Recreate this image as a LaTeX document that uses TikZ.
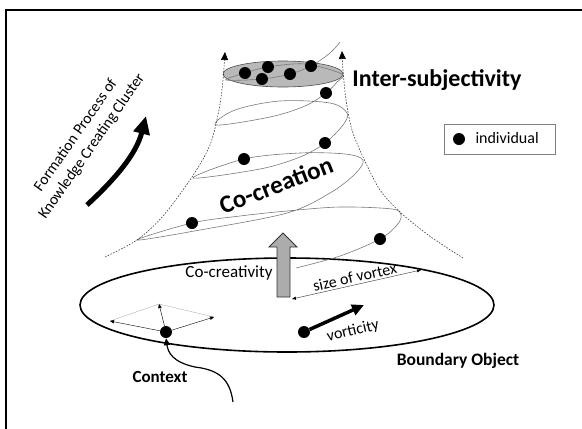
\documentclass[tikz,border=0pt]{standalone}
\usepackage{fontspec}
\setmainfont{Carlito}
\usetikzlibrary{arrows.meta}
\newcommand{\txtsize}[1]{\fontsize{#1}{#1}\selectfont}
\begin{document}
\begin{tikzpicture}[x = 1pt, y = -1pt,
		person/.style = {circle, fill = black, inner sep = 0pt, minimum size = 12pt},
		swirl/.style = {draw = gray!95!black, line width = 0.6pt},
		rim/.style = {draw = gray!50!black, line width = 0.6pt, dash pattern = on 1.6pt off 1.4pt},
		rimtip/.style = {-{Triangle[length = 8pt, width = 7pt, black, fill = black]}},
		tiny/.style = {-{Triangle[length = 4pt, width = 3.5pt]}},
		label/.style = {font = \txtsize{16}}]
	%%%%%%%%%%%%%
	\useasboundingbox (0, 0) rectangle (582, 429);
	\clip (0, 0) rectangle (582, 429);
	\draw [line width = 2.5pt] (6, 10) rectangle (600, 450);
	%%%%%%%%%%%%%
	\draw [line width = 1.6pt] (287, 305) ellipse [x radius = 207pt, y radius = 47pt];
	\filldraw [fill = gray!55, draw = gray!60!black, line width = 0.6pt] (283, 74) ellipse [x radius = 60pt, y radius = 13pt];
	%%%%%%%%%%%%%
	\coordinate (i1) at (245, 73);
	\coordinate (i2) at (268, 67);
	\coordinate (i3) at (262, 79);
	\coordinate (i4) at (290, 74);
	\coordinate (i5) at (311, 66);
	\coordinate (i6) at (326, 93);
	\coordinate (i7) at (325, 143);
	\coordinate (i8) at (244, 159);
	\coordinate (i9) at (380, 239);
	\coordinate (i10) at (192, 223);
	%%%%%%%%%%%%%
	\draw [swirl] plot [smooth, tension = 0.55] coordinates {(296, 268) (340, 256) (i9) (397, 225) (401, 215) (392, 209) (340, 207) (287, 211) (240, 216) (i10) (137, 240) (200, 230) (287, 213) (330, 193) (355, 174) (363, 160) (345, 154) (300, 153) (i8) (193, 178) (260, 169) (300, 157) (i7) (343, 125) (347, 113) (330, 103) (280, 101) (235, 110) (216, 125) (270, 117) (305, 106) (i6) (337, 82) (342, 74) (305, 64) (i2) (i1) (226, 80) (i3) (i4) (i5) (330, 53) (340, 42)};
	%%%%%%%%%%%%%
	\draw [rim, rimtip] plot [smooth] coordinates {(105, 257) (137, 240) (163, 216) (192, 177) (210, 145) (219, 110) (223, 80) (225, 52)};
	\draw [rim, rimtip] plot [smooth] coordinates {(463, 258) (431, 237) (401, 213) (380, 190) (363, 157) (352, 130) (346, 100) (343, 70) (342, 51)};
	%%%%%%%%%%%%%
	\foreach \n in {1, ..., 10} {\node [person] (p\n) at (i\n) {};}
	%%%%%%%%%%%%%
	\node [font = \bfseries\txtsize{24}] (inter) at (437, 80) {Inter-subjectivity};
	\node [font = \bfseries\txtsize{25}, rotate = 21] (cocreation) at (276, 185) {Co-creation};
	\node [font = \fontsize{15.5}{19.5}\selectfont, rotate = 55, align = center] (formation) at (84, 141) {Formation Process of\\Knowledge Creating Cluster};
	\coordinate (fa) at (87, 205);
	\coordinate (fb) at (146, 116);
	\draw [line width = 5pt, -{Triangle[length = 18pt, width = 16pt]}] (fa) .. controls (114, 180) and (136, 155) .. (fb);
	%%%%%%%%%%%%%
	\node [draw = gray, minimum width = 111pt, minimum height = 30pt] (legend) at (499.5, 139) {};
	\node [person] (lp) at (459, 139) {};
	\node [label, anchor = west] (ltext) at (472, 138) {individual};
	%%%%%%%%%%%%%
	\filldraw [fill = gray!65, draw = gray!40!black, line width = 0.8pt] (277, 297) -- (277, 247) -- (269, 247) -- (283, 233) -- (297, 247) -- (290, 247) -- (290, 297) -- cycle;
	\node [font = \txtsize{17}] (cc) at (229, 273) {Co-creativity};
	\coordinate (sa) at (292, 299);
	\coordinate (sb) at (421, 270);
	\draw [gray!60!black, line width = 0.5pt, {Triangle[length = 4pt, width = 3pt, black]}-{Triangle[length = 4pt, width = 3pt, black]}] (sa) -- (sb) node [midway, sloped, above, text = black, font = \txtsize{16}, inner sep = 2pt] {size of vortex};
	%%%%%%%%%%%%%
	\node [person] (vort) at (304, 332) {};
	\coordinate (vt) at (364, 305);
	\draw [line width = 3.5pt, -{Triangle[length = 12pt, width = 11pt]}] (vort) -- (vt);
	\node [label, rotate = 13] (vtext) at (353, 331) {vorticity};
	\node [font = \bfseries\txtsize{17.5}] (bo) at (458, 361) {Boundary Object};
	%%%%%%%%%%%%%
	\node [person] (ctx) at (166, 332) {};
	\coordinate (cl) at (110, 321);
	\coordinate (ct) at (159, 304);
	\coordinate (cr) at (214, 317);
	\draw [gray!60] (cl) -- (ct) -- (cr);
	\draw [tiny] (ctx) -- (cl);
	\draw [tiny] (ctx) -- (ct);
	\draw [tiny] (ctx) -- (cr);
	\coordinate (cs) at (233, 402);
	\draw [line width = 1.2pt, -{Triangle[length = 7pt, width = 6pt]}] (cs) .. controls (230, 380) and (220, 370) .. (195, 367) .. controls (172, 362) and (168, 352) .. (ctx.south);
	\node [font = \bfseries\txtsize{17}] (context) at (160, 377) {Context};
	%%%%%%%%%%%%%%
\end{tikzpicture}
\end{document}
